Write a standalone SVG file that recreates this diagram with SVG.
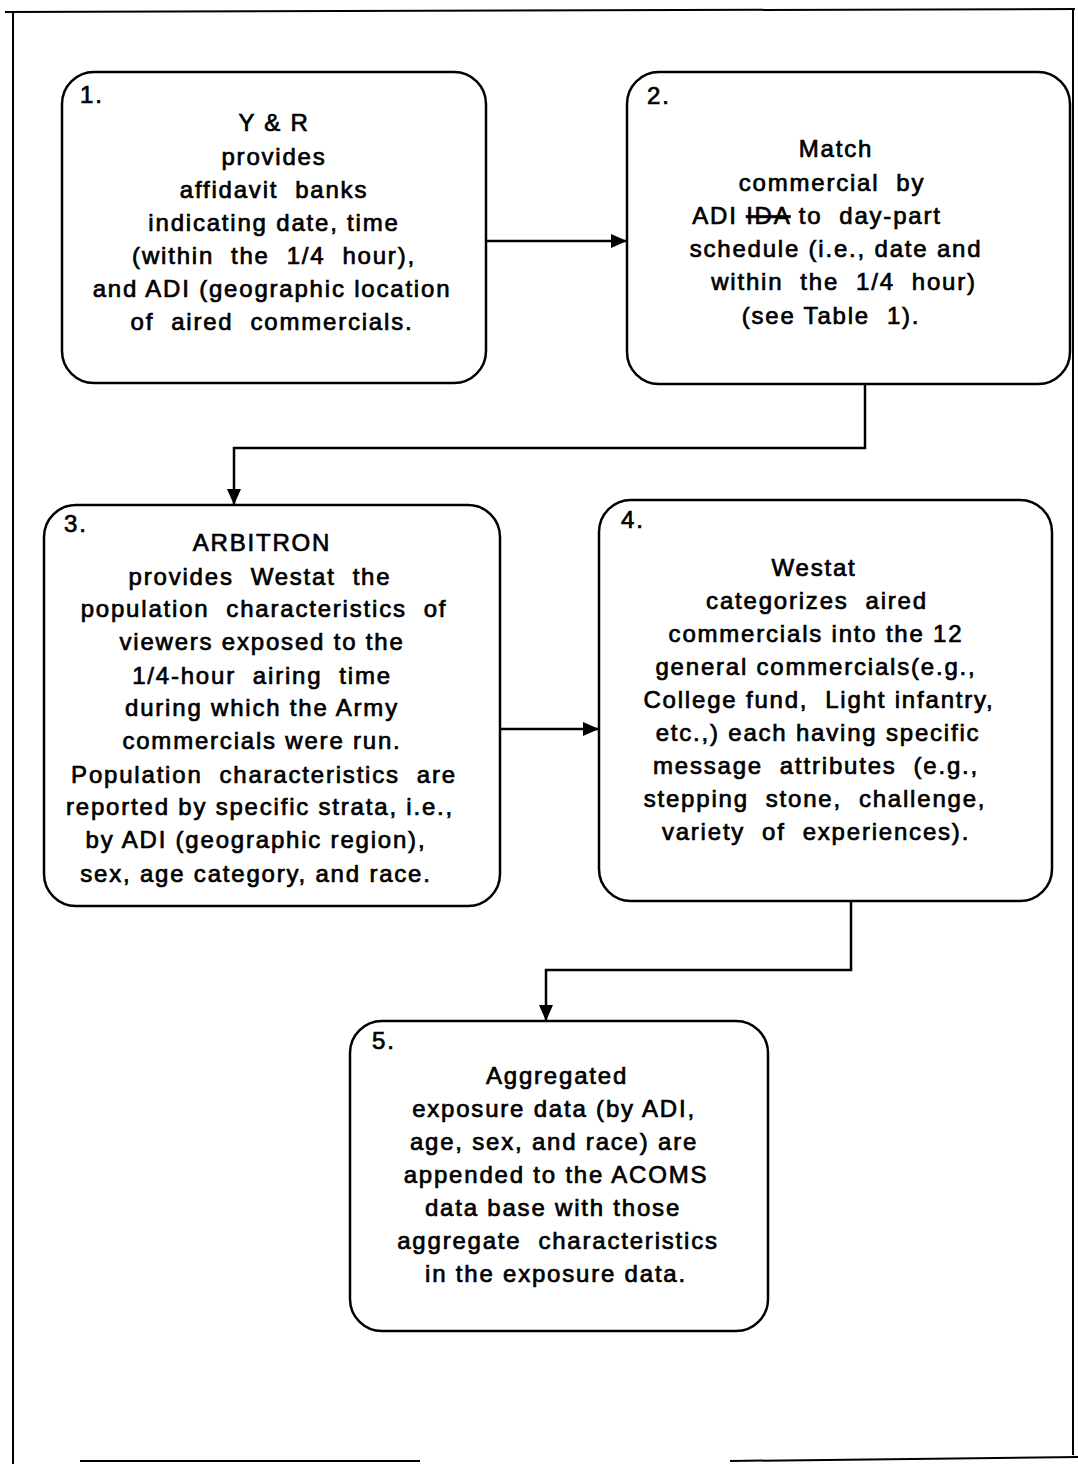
<svg xmlns="http://www.w3.org/2000/svg" width="1078" height="1464" viewBox="0 0 1078 1464">
<style>
.box{fill:#fff;stroke:#000;stroke-width:2.5}
.frame{fill:none;stroke:#000;stroke-width:2}
.conn{fill:none;stroke:#000;stroke-width:2.5}
text{font-family:"Liberation Sans",Arial,sans-serif;font-size:24px;letter-spacing:1.8px;fill:#000;stroke:#000;stroke-width:0.7;white-space:pre}
.c{text-anchor:middle}
</style>
<defs>
<marker id="ah" markerWidth="16" markerHeight="14" refX="15" refY="7" orient="auto" markerUnits="userSpaceOnUse" viewBox="0 0 16 14">
<path d="M0,0 L16,7 L0,14 z" fill="#000"/>
</marker>
</defs>
<rect width="1078" height="1464" fill="#fff"/>
<g id="frame">
<path class="frame" d="M5,12 L1075,9" stroke-width="3"/>
<path class="frame" d="M13,12 L13,1464"/>
<path class="frame" d="M1073,10 L1073,1455"/>
<path class="frame" d="M80,1461 L420,1461" stroke-width="1" stroke="#888"/>
<path class="frame" d="M730,1461 L1078,1457" stroke-width="2.5"/>
</g>
<g id="connectors">
<path class="conn" d="M486,241 L626,241" marker-end="url(#ah)"/>
<path class="conn" d="M865,384 L865,448 L234,448 L234,504" marker-end="url(#ah)"/>
<path class="conn" d="M500,729 L598,729" marker-end="url(#ah)"/>
<path class="conn" d="M851,901 L851,970 L546,970 L546,1020" marker-end="url(#ah)"/>
</g>
<g id="node1">
<rect class="box" x="62" y="72" width="424" height="311" rx="32"/>
<text x="80" y="103">1.</text>
<text class="c" x="274" y="131">Y &amp; R</text>
<text class="c" x="274" y="165">provides</text>
<text class="c" x="274" y="198">affidavit  banks</text>
<text class="c" x="274" y="231">indicating date, time</text>
<text class="c" x="274" y="264">(within  the  1/4  hour),</text>
<text class="c" x="272" y="297">and ADI (geographic location</text>
<text class="c" x="272" y="330">of  aired  commercials.</text>
</g>
<g id="node2">
<rect class="box" x="627" y="72" width="443" height="312" rx="32"/>
<text x="647" y="104">2.</text>
<text class="c" x="836" y="157">Match</text>
<text class="c" x="832" y="191">commercial  by</text>
<text class="c" x="817" y="224">ADI <tspan text-decoration="line-through">IDA</tspan> to  day-part</text>
<text class="c" x="836" y="257">schedule (i.e., date and</text>
<text class="c" x="844" y="290">within  the  1/4  hour)</text>
<text class="c" x="831" y="324">(see Table  1).</text>
</g>
<g id="node3">
<rect class="box" x="44" y="505" width="456" height="401" rx="32"/>
<text x="64" y="532">3.</text>
<text class="c" x="262" y="551">ARBITRON</text>
<text class="c" x="260" y="585">provides  Westat  the</text>
<text class="c" x="264" y="617">population  characteristics  of</text>
<text class="c" x="262" y="650">viewers exposed to the</text>
<text class="c" x="262" y="684">1/4-hour  airing  time</text>
<text class="c" x="262" y="716">during which the Army</text>
<text class="c" x="262" y="749">commercials were run.</text>
<text class="c" x="264" y="783">Population  characteristics  are</text>
<text class="c" x="260" y="815">reported by specific strata, i.e.,</text>
<text class="c" x="256" y="848">by ADI (geographic region),</text>
<text class="c" x="256" y="882">sex, age category, and race.</text>
</g>
<g id="node4">
<rect class="box" x="599" y="500" width="453" height="401" rx="32"/>
<text x="621" y="528">4.</text>
<text class="c" x="814" y="576">Westat</text>
<text class="c" x="817" y="609">categorizes  aired</text>
<text class="c" x="816" y="642">commercials into the 12</text>
<text class="c" x="816" y="675">general commercials(e.g.,</text>
<text class="c" x="819" y="708">College fund,  Light infantry,</text>
<text class="c" x="818" y="741">etc.,) each having specific</text>
<text class="c" x="816" y="774">message  attributes  (e.g.,</text>
<text class="c" x="815" y="807">stepping  stone,  challenge,</text>
<text class="c" x="816" y="840">variety  of  experiences).</text>
</g>
<g id="node5">
<rect class="box" x="350" y="1021" width="418" height="310" rx="32"/>
<text x="372" y="1049">5.</text>
<text class="c" x="557" y="1084">Aggregated</text>
<text class="c" x="554" y="1117">exposure data (by ADI,</text>
<text class="c" x="554" y="1150">age, sex, and race) are</text>
<text class="c" x="556" y="1183">appended to the ACOMS</text>
<text class="c" x="553" y="1216">data base with those</text>
<text class="c" x="558" y="1249">aggregate  characteristics</text>
<text class="c" x="556" y="1282">in the exposure data.</text>
</g>
</svg>
